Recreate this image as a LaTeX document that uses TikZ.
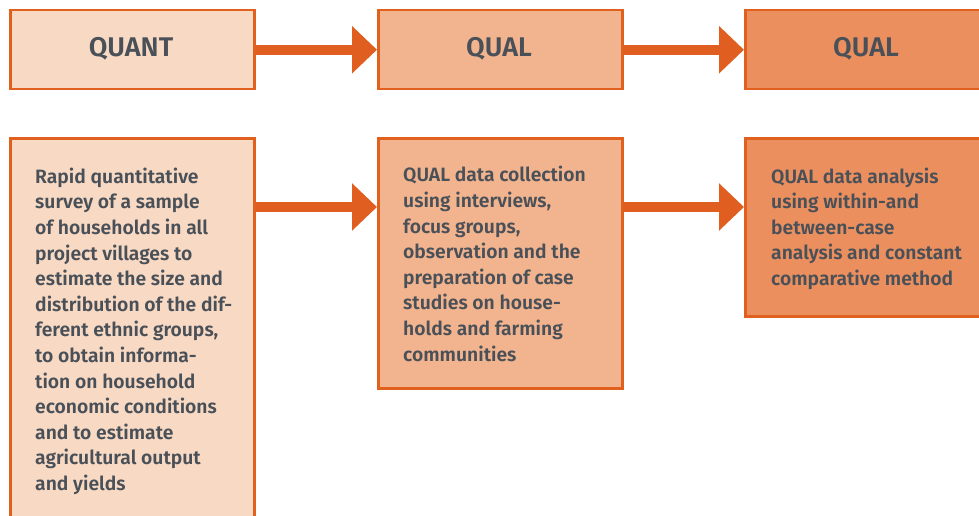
\documentclass[tikz,border=0pt]{standalone}
\usepackage{fontspec}
\setmainfont{Fira Sans}[BoldFont={Fira Sans SemiBold}]
\usetikzlibrary{arrows.meta}
\definecolor{fillA}{HTML}{F7D9C4}
\definecolor{fillB}{HTML}{F2B48E}
\definecolor{fillC}{HTML}{EB8F5E}
\definecolor{edge}{HTML}{E2601E}
\definecolor{arr}{HTML}{E05F20}
\definecolor{ink}{HTML}{4A5058}
\begin{document}
\begin{tikzpicture}[x=1pt,y=-1pt,
  box/.style={draw=edge,line width=2.5pt,rectangle,inner sep=0pt,anchor=north west},
  title/.style={text=ink,font=\fontsize{27}{30}\selectfont\bfseries},
  body/.style={text=ink,align=left,inner sep=0pt,anchor=base west,font=\fontsize{19.3}{25.6}\selectfont\bfseries},
  bigarrow/.style={draw=arr,line width=10pt,-{Triangle[width=46pt,length=25pt]}}]
\useasboundingbox (0,0) rectangle (979,516);
% top row
\node[box,fill=fillA,minimum width=244pt,minimum height=79pt] (q1) at (9,9) {};
\node[box,fill=fillB,minimum width=244pt,minimum height=79pt] (q2) at (377,9) {};
\node[box,fill=fillC,minimum width=250pt,minimum height=79pt] (q3) at (744,9) {};
\node[title] (q1t) at (131,49) {QUANT};
\node[title] (q2t) at (499,49) {QUAL};
\node[title] (q3t) at (866,49) {QUAL};
\draw[bigarrow] (q1.east) -- (q2.west);
\draw[bigarrow] (q2.east) -- (q3.west);
% bottom row
\node[box,fill=fillA,minimum width=244pt,minimum height=400pt] (b1) at (9,137) {};
\node[box,fill=fillB,minimum width=244pt,minimum height=250pt] (b2) at (377,137) {};
\node[box,fill=fillC,minimum width=250pt,minimum height=178pt] (b3) at (744,137) {};
\coordinate (ya) at (0,207);
\draw[bigarrow] (b1.east |- ya) -- (b2.west |- ya);
\draw[bigarrow] (b2.east |- ya) -- (b3.west |- ya);
\node[body] (b1t) at (35,490.5) {Rapid quantitative\\survey of a sample\\of households in all\\project villages to\\estimate the size and\\distribution of the dif-\\ferent ethnic groups,\\to obtain informa-\\tion on household\\economic conditions\\and to estimate\\agricultural output\\and yields};
\node[body] (b2t) at (403,361) {QUAL data collection\\using interviews,\\focus groups,\\observation and the\\preparation of case\\studies on house-\\holds and farming\\communities};
\node[body] (b3t) at (771,285.5) {QUAL data analysis\\using within-and\\between-case\\analysis and constant\\comparative method};
\end{tikzpicture}
\end{document}
